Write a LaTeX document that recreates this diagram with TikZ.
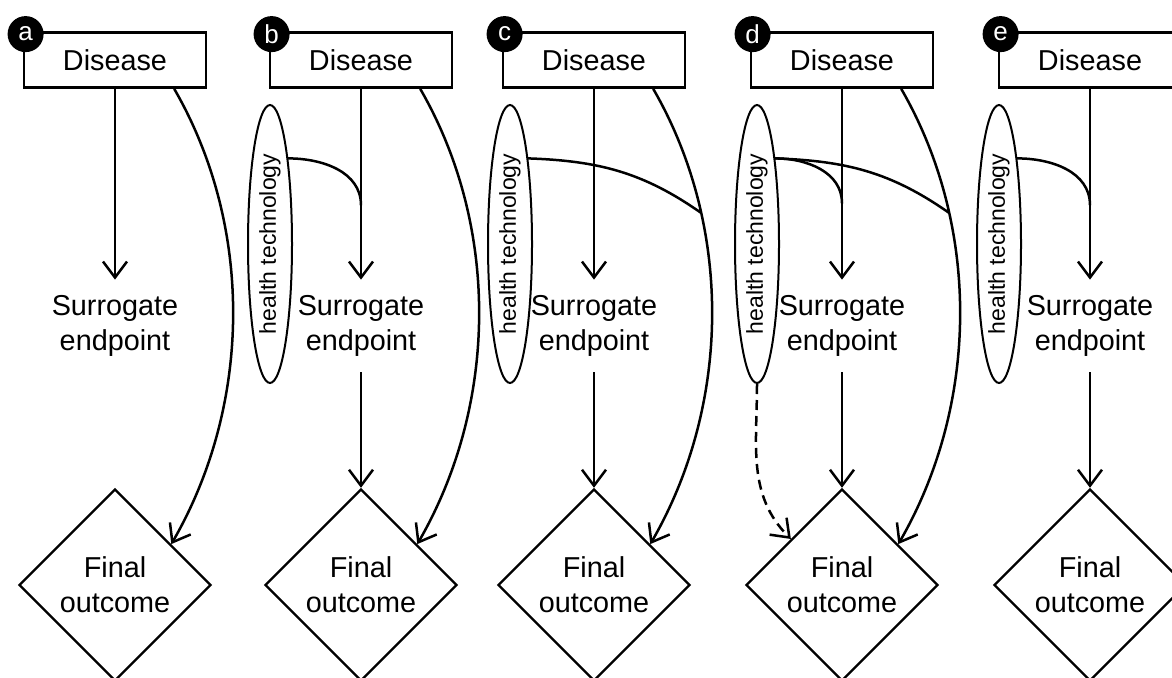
\documentclass[tikz,border=0pt]{standalone}
\usepackage{fontspec}
\setmainfont{Liberation Sans}
\usetikzlibrary{shapes.geometric,arrows.meta}

\begin{document}
\begin{tikzpicture}[x=0.5pt, y=0.5pt,
  txt/.style={font=\fontsize{14.4}{17.5}\selectfont, align=center},
  disbox/.style={draw, line width=1.4pt, minimum width=91pt, minimum height=27.5pt, inner sep=0pt, txt},
  badge/.style={circle, fill=black, text=white, minimum size=18pt, inner sep=0pt, xshift=1.5pt, yshift=-1.5pt, font=\fontsize{13}{13}\selectfont},
  surr/.style={minimum height=46pt, inner sep=0pt, txt},
  final/.style={draw, diamond, line width=1.2pt, minimum size=96pt, inner sep=0pt, txt},
  tech/.style={draw, ellipse, line width=1pt, minimum width=22pt, minimum height=139pt, inner sep=0pt, font=\fontsize{11.5}{11.5}\selectfont},
  arr/.style={-{Straight Barb[length=8pt, width=12pt]}, line width=1.25pt},
  link/.style={line width=1.25pt}]

\useasboundingbox (0,0) rectangle (1172,677);

% Panel a
\node[disbox] (disa) at (115,617) {Disease};
\node[badge] (bada) at (disa.north west) {a};
\node[surr] (sura) at (115,351) {Surrogate\\endpoint};
\node[final] (fina) at (115,92) {Final\\outcome};
\draw[arr] (disa) -- (sura);
\draw[arr] (disa.-26) to[out=-60, in=60, looseness=0.9] (fina.36);

% Panel b
\node[disbox] (disb) at (361,617) {Disease};
\node[badge] (badb) at (disb.north west) {b};
\node[surr] (surb) at (361,351) {Surrogate\\endpoint};
\node[final] (finb) at (361,92) {Final\\outcome};
\node[tech] (htb) at (270,433) {\rotatebox{90}{health technology}};
\draw[arr] (disb) -- coordinate[pos=0.61] (mb) (surb);
\draw[link] (htb.78) to[out=0, in=90] (mb);
\draw[arr] (surb) -- (finb);
\draw[arr] (disb.-26) to[out=-60, in=60, looseness=0.9] (finb.36);

% Panel c
\node[disbox] (disc) at (594,617) {Disease};
\node[badge] (badc) at (disc.north west) {c};
\node[surr] (surc) at (594,351) {Surrogate\\endpoint};
\node[final] (finc) at (594,92) {Final\\outcome};
\node[tech] (htc) at (510,433) {\rotatebox{90}{health technology}};
\draw[arr] (disc) -- (surc);
\draw[arr] (surc) -- (finc);
\draw[arr] (disc.-26) to[out=-60, in=60, looseness=0.9] coordinate[pos=0.28] (jc) (finc.36);
\draw[link] (htc.78) to[out=-2, in=145] (jc);

% Panel d
\node[disbox] (disd) at (842,617) {Disease};
\node[badge] (badd) at (disd.north west) {d};
\node[surr] (surd) at (842,351) {Surrogate\\endpoint};
\node[final] (find) at (842,92) {Final\\outcome};
\node[tech] (htd) at (757,433) {\rotatebox{90}{health technology}};
\draw[arr] (disd) -- coordinate[pos=0.6] (md) (surd);
\draw[arr] (surd) -- (find);
\draw[arr] (disd.-26) to[out=-60, in=60, looseness=0.9] coordinate[pos=0.28] (jd) (find.36);
\draw[link] (htd.78) to[out=0, in=90] (md);
\draw[link] (htd.78) to[out=-2, in=145] (jd);
\draw[arr, dash pattern=on 5pt off 3pt] (htd.south) to[out=-90, in=135] (find.138);

% Panel e
\node[disbox] (dise) at (1090,617) {Disease};
\node[badge] (bade) at (dise.north west) {e};
\node[surr] (sure) at (1090,351) {Surrogate\\endpoint};
\node[final] (fine) at (1090,92) {Final\\outcome};
\node[tech] (hte) at (999,433) {\rotatebox{90}{health technology}};
\draw[arr] (dise) -- coordinate[pos=0.61] (me) (sure);
\draw[link] (hte.78) to[out=0, in=90] (me);
\draw[arr] (sure) -- (fine);

\end{tikzpicture}
\end{document}
